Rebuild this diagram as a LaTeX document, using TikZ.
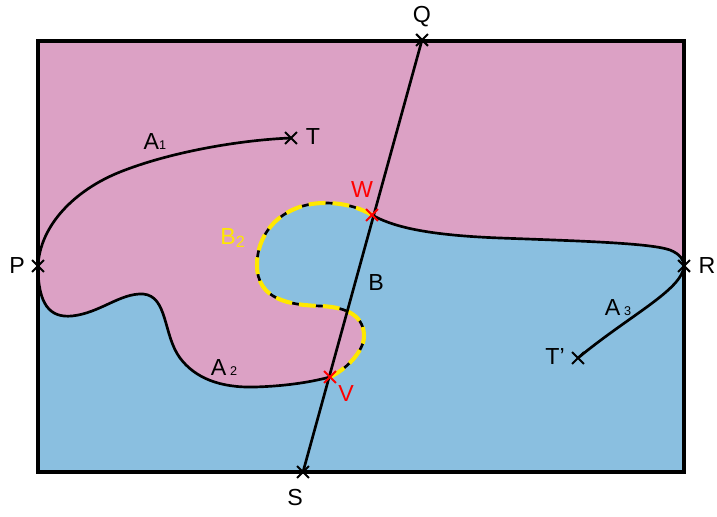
\documentclass[tikz,border=0pt]{standalone}
\usepackage{fontspec}
\setmainfont{Liberation Sans}
\usetikzlibrary{shapes.misc}
\definecolor{rosa}{RGB}{220,161,197}
\definecolor{azul}{RGB}{138,191,224}
\definecolor{amarelo}{RGB}{255,232,0}

\begin{document}
\begin{tikzpicture}[x=0.025cm, y=-0.025cm,
      cruz/.style={draw, cross out, line width=1.5pt, minimum size=7pt,
                   inner sep=0pt},
      curva/.style={line width=1.9pt},
      rot/.style={font=\fontsize{16.5}{18}\selectfont, inner sep=1pt},
      indice/.style={font=\fontsize{8}{9}\selectfont}]
    \useasboundingbox (0,0) rectangle (717,517);
    % Cantos e pontos
    \coordinate (NW) at (38,41);
    \coordinate (NE) at (684,41);
    \coordinate (SE) at (684,472);
    \coordinate (SW) at (38,472);
    \coordinate (P) at (38,266);
    \coordinate (R) at (684,266);
    \coordinate (Q) at (422,40);
    \coordinate (S) at (303,472);
    \coordinate (T) at (291,138);
    \coordinate (T2) at (578,358);
    \coordinate (V) at (330,377);
    \coordinate (W) at (372,215);
    % Regioes
    \fill[rosa] (NW) rectangle (SE);
    \filldraw[fill=azul, draw=black, curva]
      (P) .. controls (38,305) and (50,318) .. (72,316)
      .. controls (100,313) and (120,293) .. (143,294)
      .. controls (168,296) and (163,335) .. (180,358)
      .. controls (195,378) and (220,388) .. (255,387)
      .. controls (290,386) and (315,381) .. (V)
      .. controls (345,370) and (364,352) .. (364,336)
      .. controls (364,318) and (350,307) .. (320,306)
      .. controls (290,305) and (257,300) .. (257,265)
      .. controls (257,230) and (285,203) .. (325,203)
      .. controls (345,203) and (360,208) .. (W)
      .. controls (390,225) and (420,235) .. (500,238)
      .. controls (580,241) and (650,243) .. (670,250)
      .. controls (680,254) and (684,260) .. (R)
      -- (SE) -- (SW) -- cycle;
    % B2 tracejado
    \draw[amarelo, line width=2.9pt, dash pattern=on 12pt off 5pt]
      (V) .. controls (345,370) and (364,352) .. (364,336)
      .. controls (364,318) and (350,307) .. (320,306)
      .. controls (290,305) and (257,300) .. (257,265)
      .. controls (257,230) and (285,203) .. (325,203)
      .. controls (345,203) and (360,208) .. (W);
    \draw[line width=2.2pt] (NW) rectangle (SE);
    % Arcos A1, A3 e segmento QS
    \draw[curva] (P) .. controls (40,225) and (75,190) .. (120,172)
      .. controls (170,152) and (240,140) .. (T);
    \draw[curva] (R) .. controls (682,290) and (630,315) .. (T2);
    \draw[curva] (Q) -- (S);
    % Marcas
    \foreach \p in {P,Q,R,S,T,T2}
      \node[cruz] (x\p) at (\p) {};
    \node[cruz, red] (xV) at (V) {};
    \node[cruz, red] (xW) at (W) {};
    % Rotulos
    \node[rot] (lP) at (17,266) {P};
    \node[rot] (lQ) at (422,17) {Q};
    \node[rot] (lR) at (707,266) {R};
    \node[rot] (lS) at (295,498) {S};
    \node[rot] (lT) at (313,137) {T};
    \node[rot] (lT2) at (555,357) {T'};
    \node[rot, red] (lV) at (346,394) {V};
    \node[rot, red] (lW) at (362,190) {W};
    \node[rot] (lB) at (376,283) {B};
    \node[rot, amarelo] (lB2) at (233,238) {B\textsubscript{2}};
    \node[rot] (lA1) at (155,142) {A{\fontsize{9}{10}\selectfont 1}};
    \node[rot] (lA2) at (224,368) {A\,{\fontsize{9}{10}\selectfont 2}};
    \node[rot] (lA3) at (618,308) {A\,{\fontsize{9}{10}\selectfont 3}};
  \end{tikzpicture}
\end{document}
